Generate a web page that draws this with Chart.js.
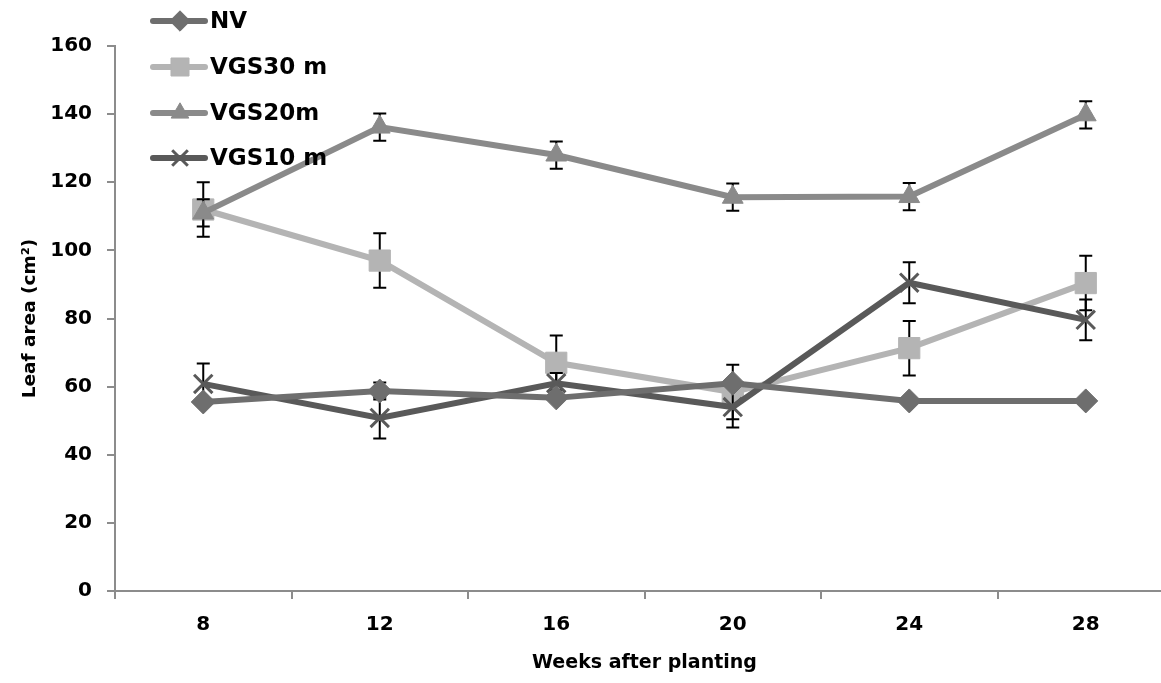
<!DOCTYPE html>
<html>
<head>
<meta charset="utf-8">
<script src="https://cdn.jsdelivr.net/npm/chart.js@4/dist/chart.umd.min.js"></script>
<style>
  html, body { margin: 0; padding: 0; background: #fff; overflow: hidden; }
</style>
</head>
<body>
<canvas id="myChart" width="1190" height="683"></canvas>
<script>
const weeks = ['8', '12', '16', '20', '24', '28'];
const yTicks = [0, 20, 40, 60, 80, 100, 120, 140, 160];

const nv = [55.5, 58.7, 56.7, 61, 55.8, 55.8];
const nvErr = [1, 2.5, 1, 1, 1, 1];
const vgs30 = [112, 97, 67, 58.4, 71.3, 90.4];
const vgs30Err = [8, 8, 8, 8, 8, 8];
const vgs20 = [111, 136.2, 128, 115.6, 115.8, 139.8];
const vgs20Err = [4, 4, 4, 4, 4, 4];
const vgs10 = [60.8, 50.8, 61, 54, 90.5, 79.6];
const vgs10Err = [6, 6, 3, 6, 6, 6];

const names = ['NV', 'VGS30 m', 'VGS20m', 'VGS10 m'];
const errors = [nvErr, vgs30Err, vgs20Err, vgs10Err];

const axisGray = '#8c8c8c';
const font = '"DejaVu Sans", "Open Sans", sans-serif';

// error bars, drawn just before their own series so markers sit on top
const errorBars = {
  id: 'errorBars',
  beforeDatasetDraw(chart, args) {
    const ctx = chart.ctx;
    const y = chart.scales.y;
    const i = args.index;
    const ds = chart.data.datasets[i];
    ctx.save();
    ctx.strokeStyle = '#000';
    ctx.lineWidth = 2;
    args.meta.data.forEach((pt, j) => {
      const e = errors[i][j];
      const top = y.getPixelForValue(ds.data[j] + e);
      const bot = y.getPixelForValue(ds.data[j] - e);
      ctx.beginPath();
      ctx.moveTo(pt.x, top); ctx.lineTo(pt.x, bot);
      ctx.moveTo(pt.x - 6.5, top); ctx.lineTo(pt.x + 6.5, top);
      ctx.moveTo(pt.x - 6.5, bot); ctx.lineTo(pt.x + 6.5, bot);
      ctx.stroke();
    });
    ctx.restore();
  }
};

// legend in the top left corner, stacked
const cornerLegend = {
  id: 'cornerLegend',
  afterDraw(chart) {
    const ctx = chart.ctx;
    const rows = [21, 67, 113, 158];
    ctx.save();
    chart.data.datasets.forEach((ds, i) => {
      const yy = rows[i];
      ctx.strokeStyle = ds.borderColor;
      ctx.lineWidth = 6;
      ctx.lineCap = 'round';
      ctx.beginPath();
      ctx.moveTo(153, yy); ctx.lineTo(205, yy);
      ctx.stroke();
      ctx.lineCap = 'butt';
      ctx.fillStyle = ds.pointBackgroundColor;
      ctx.strokeStyle = ds.pointBorderColor;
      ctx.lineWidth = ds.pointBorderWidth;
      Chart.helpers.drawPoint(ctx, {
        pointStyle: ds.pointStyle,
        radius: ds.pointRadius * 0.85,
        rotation: 0,
        borderWidth: ds.pointBorderWidth
      }, 180, yy);
      ctx.fillStyle = '#000';
      ctx.font = 'bold 23px ' + font;
      ctx.textBaseline = 'middle';
      ctx.fillText(names[i], 210, yy + 1);
    });
    ctx.restore();
  }
};

function series(i, data, color, style, radius, order) {
  return {
    label: names[i],
    data: data,
    borderColor: color,
    backgroundColor: color,
    borderWidth: 6,
    pointStyle: style,
    pointRadius: radius,
    pointHoverRadius: radius,
    pointBackgroundColor: color,
    pointBorderColor: color,
    pointBorderWidth: style === 'crossRot' ? 3 : 1,
    tension: 0,
    order: order
  };
}

const ctx = document.getElementById('myChart').getContext('2d');
const chart = new Chart(ctx, {
  type: 'line',
  data: {
    labels: weeks,
    datasets: [
      series(0, nv, '#6e6e6e', 'rectRot', 12, 0),
      series(1, vgs30, '#b4b4b4', 'rect', 15, 3),
      series(2, vgs20, '#8a8a8a', 'triangle', 12, 2),
      series(3, vgs10, '#595959', 'crossRot', 13, 1)
    ]
  },
  options: {
    responsive: false,
    animation: false,
    layout: { padding: { left: 8, top: 46, right: 16, bottom: 0 } },
    plugins: {
      legend: { display: false },
      tooltip: { enabled: false }
    },
    scales: {
      x: {
        offset: true,
        afterFit: s => { s.height = 92; },
        grid: { display: true, offset: true, drawOnChartArea: false, tickLength: 8, color: axisGray, lineWidth: 2 },
        border: { color: axisGray, width: 2 },
        ticks: { color: '#000', padding: 14, font: { family: font, size: 20, weight: 'bold' } },
        title: { display: true, text: 'Weeks after planting', color: '#000', padding: { top: 4, bottom: 9 }, font: { family: font, size: 19, weight: 'bold' } }
      },
      y: {
        min: 0,
        max: 160,
        afterBuildTicks: s => { s.ticks = yTicks.map(v => ({ value: v })); },
        afterFit: s => { s.width = 107; },
        grid: { display: true, drawOnChartArea: false, tickLength: 8, color: axisGray, lineWidth: 2 },
        border: { color: axisGray, width: 2 },
        ticks: { color: '#000', padding: 15, font: { family: font, size: 20, weight: 'bold' } },
        title: { display: true, text: 'Leaf area (cm\u00b2)', color: '#000', padding: { top: 11, bottom: 4 }, font: { family: font, size: 18.5, weight: 'bold' } }
      }
    }
  },
  plugins: [errorBars, cornerLegend]
});
</script>
</body>
</html>
